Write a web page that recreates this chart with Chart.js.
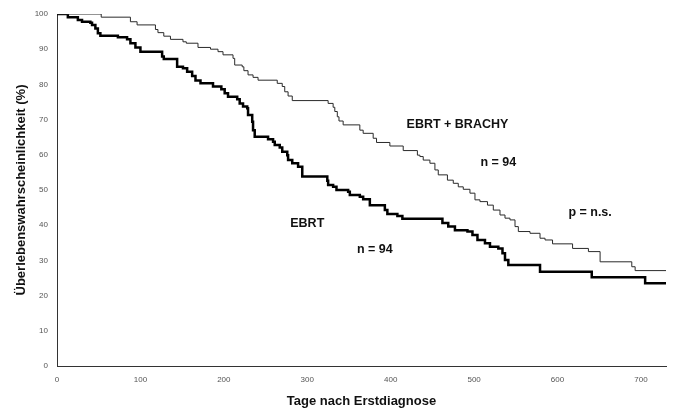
<!DOCTYPE html>
<html>
<head>
<meta charset="utf-8">
<script src="https://cdn.jsdelivr.net/npm/chart.js@4"></script>
<style>
  html, body { margin: 0; padding: 0; background: #fff; }
  #wrap { width: 673px; height: 414px; }
</style>
</head>
<body>
<div id="wrap"><canvas id="km"></canvas></div>
<script>
// Kaplan-Meier steps: day of event and survival (%) after it
const brachyDays = [0, 53, 88, 96, 118, 121, 128, 136, 151, 155, 169, 184, 193, 199, 211, 213, 222, 224, 229, 235,
  241, 264, 270, 273, 277, 282, 325, 331, 333, 336, 338, 343, 363, 367, 379, 383, 399, 415, 432, 435,
  439, 447, 453, 457, 468, 475, 481, 487, 495, 501, 507, 516, 523, 531, 537, 543, 549, 553, 567, 579,
  585, 594, 618, 637, 651, 689, 693, 730];
const brachySurv = [100, 99.1, 97.8, 96.9, 95.6, 94.7, 93.7, 92.8, 92.1, 91.7, 90.5, 90.0, 89.3, 88.4, 87.4, 85.5, 85.0, 83.9, 82.7, 82.0,
  81.2, 80.3, 79.4, 77.9, 76.7, 75.4, 74.6, 73.5, 72.3, 70.8, 69.6, 68.5, 67.0, 66.1, 64.7, 63.5, 62.5, 61.2, 59.9, 59.5,
  58.5, 57.6, 55.7, 54.3, 52.8, 51.9, 50.9, 50.2, 49.1, 47.2, 46.7, 45.7, 44.3, 42.9, 42.0, 41.5, 39.6, 38.2, 37.7, 36.3,
  35.8, 34.7, 33.4, 32.5, 29.6, 28.2, 27.1, 27.1];

const ebrtDays = [0, 13, 25, 30, 40, 42, 46, 49, 52, 73, 84, 88, 94, 100, 126, 128, 144, 151, 156, 162,
  166, 172, 187, 197, 201, 205, 216, 219, 223, 228, 229, 234, 235, 237, 253, 259, 261, 267, 270, 276,
  277, 282, 289, 294, 324, 325, 331, 335, 349, 351, 363, 367, 375, 393, 396, 408, 414, 462, 469, 477,
  492, 498, 504, 513, 519, 529, 534, 537, 541, 579, 641, 705, 730];
const ebrtSurv = [100, 99.1, 98.3, 97.8, 97.5, 96.9, 95.9, 94.5, 93.8, 93.4, 92.8, 91.7, 90.5, 89.3, 87.9, 87.2, 85.0, 84.6, 83.6, 82.4,
  81.1, 80.3, 79.4, 78.6, 77.5, 76.5, 75.8, 74.6, 73.7, 73.2, 71.3, 69.4, 67.0, 65.1, 64.4, 63.7, 62.8, 62.1, 60.9, 59.9,
  58.5, 57.6, 56.6, 53.8, 52.6, 51.4, 50.9, 50.0, 49.5, 48.6, 48.1, 47.4, 45.7, 44.3, 43.2, 42.6, 41.8, 40.6, 39.6, 38.6,
  38.2, 37.2, 35.8, 34.9, 33.9, 33.4, 32.0, 30.1, 28.7, 26.8, 25.2, 23.5, 23.5];

const xTicks = [0, 100, 200, 300, 400, 500, 600, 700];
const yTicks = [0, 10, 20, 30, 40, 50, 60, 70, 80, 90, 100];

// text placed inside the plot, in data units
const notes = [
  { text: "EBRT + BRACHY", day: 480, pct: 68.5 },
  { text: "n = 94", day: 529, pct: 57.7 },
  { text: "p = n.s.", day: 639, pct: 43.6 },
  { text: "EBRT", day: 300, pct: 40.6 },
  { text: "n = 94", day: 381, pct: 33.2 },
];

const toPoints = (days, surv) => days.map((d, i) => ({ x: d, y: surv[i] }));

const notesPlugin = {
  id: "notes",
  afterDatasetsDraw(chart) {
    const { ctx, scales } = chart;
    ctx.save();
    ctx.font = "bold 12.5px 'Liberation Sans', Arial, sans-serif";
    ctx.fillStyle = "#111";
    ctx.textAlign = "center";
    ctx.textBaseline = "middle";
    notes.forEach(n => {
      ctx.fillText(n.text, scales.x.getPixelForValue(n.day), scales.y.getPixelForValue(n.pct));
    });
    ctx.restore();
  },
};

const tickFont = { family: "'Liberation Sans', Arial, sans-serif", size: 8 };
const titleFont = { family: "'Liberation Sans', Arial, sans-serif", size: 13, weight: "bold" };

new Chart(document.getElementById("km"), {
  type: "line",
  data: {
    datasets: [
      {
        label: "EBRT + BRACHY",
        data: toPoints(brachyDays, brachySurv),
        borderColor: "#2a2a2a",
        borderWidth: 1,
        stepped: true,
        pointRadius: 0,
        fill: false,
      },
      {
        label: "EBRT",
        data: toPoints(ebrtDays, ebrtSurv),
        borderColor: "#000",
        borderWidth: 2.5,
        stepped: true,
        pointRadius: 0,
        fill: false,
      },
    ],
  },
  options: {
    responsive: true,
    maintainAspectRatio: false,
    animation: false,
    layout: { padding: { top: 14, right: 7, bottom: 0, left: 0 } },
    plugins: { legend: { display: false }, tooltip: { enabled: false } },
    scales: {
      x: {
        type: "linear",
        min: 0,
        max: 730,
        grid: { display: false, drawTicks: false },
        border: { display: true, color: "#333", width: 1 },
        afterBuildTicks: s => { s.ticks = xTicks.map(v => ({ value: v })); },
        afterFit: s => { s.height = 48; },
        ticks: { font: tickFont, color: "#555", padding: 9, maxRotation: 0 },
        title: { display: true, text: "Tage nach Erstdiagnose", font: titleFont, color: "#111", padding: 5 },
      },
      y: {
        min: 0,
        max: 100,
        grid: { display: false, drawTicks: false },
        border: { display: true, color: "#333", width: 1 },
        afterBuildTicks: s => { s.ticks = yTicks.map(v => ({ value: v })); },
        afterFit: s => { s.width = 57; },
        ticks: { font: tickFont, color: "#555", padding: 9 },
        title: { display: true, text: "Überlebenswahrscheinlichkeit (%)", font: titleFont, color: "#111", padding: 14 },
      },
    },
  },
  plugins: [notesPlugin],
});
</script>
</body>
</html>
